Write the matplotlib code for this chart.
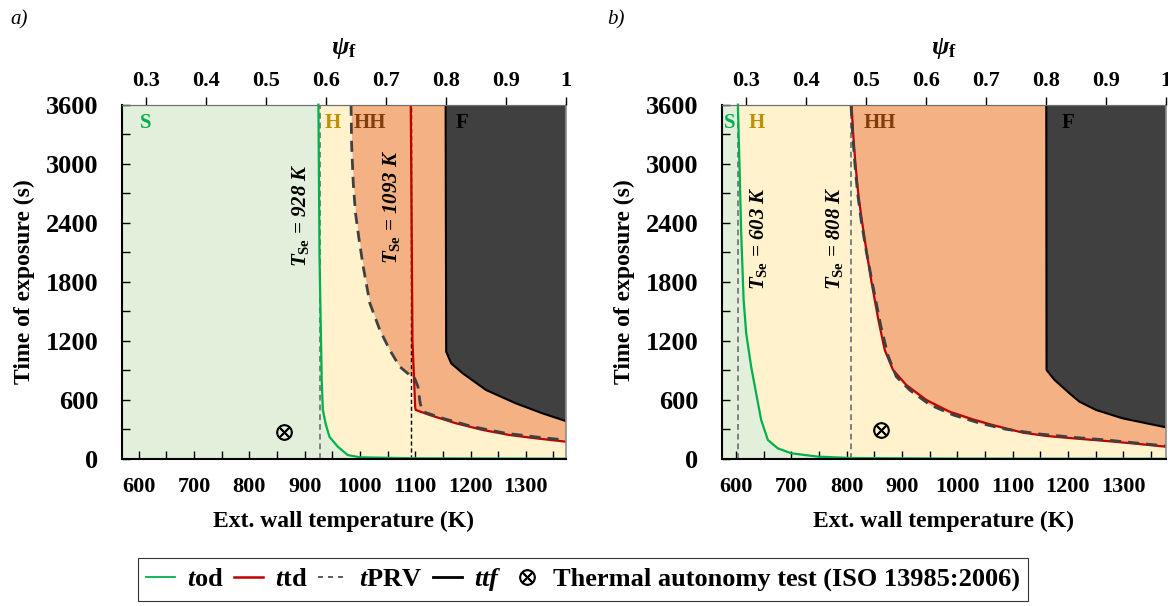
import numpy as np
import matplotlib
matplotlib.use("Agg")
import matplotlib.pyplot as plt
from matplotlib.lines import Line2D
from matplotlib.ticker import MultipleLocator

plt.rcParams['font.family'] = ['Liberation Serif', 'DejaVu Serif']
plt.rcParams['font.weight'] = 'bold'
plt.rcParams['mathtext.fontset'] = 'custom'
plt.rcParams['mathtext.it'] = 'Liberation Serif:italic:bold'
plt.rcParams['mathtext.rm'] = 'Liberation Serif:bold'
plt.rcParams['mathtext.bf'] = 'Liberation Serif:bold'

# ---------------- data: panel a ----------------
a_od_T = [925, 927, 931, 933, 938, 945, 960, 978, 1000, 1100, 1372]
a_od_t = [3600, 2050, 800, 500, 360, 225, 125, 40, 17, 7, 3]
a_td_T = [1092, 1095, 1098, 1100, 1101, 1126, 1174, 1222, 1270, 1318, 1372]
a_td_t = [3600, 1200, 800, 520, 498, 447, 362, 295, 244, 210, 176]
a_prv_T = [984, 985, 988, 992, 998, 1006, 1018, 1036, 1054, 1072, 1090, 1099, 1105, 1109, 1114, 1150, 1204, 1264, 1324, 1372]
a_prv_t = [3600, 3200, 2800, 2500, 2250, 1954, 1582, 1311, 1107, 938, 853, 820, 735, 565, 481, 413, 328, 261, 220, 192]
a_ttf_T = [1155, 1156, 1165, 1186, 1228, 1282, 1330, 1372]
a_ttf_t = [3600, 1090, 972, 870, 701, 565, 464, 386]
a_Tse = [928, 1093]
a_test = (862, 270)

# ---------------- data: panel b ----------------
b_od_T = [603.6, 606.6, 609.6, 614, 618.6, 627.6, 636.6, 645.7, 657.8, 675.8, 700, 748, 808, 1000, 1377]
b_od_t = [3600, 2970, 2293, 1616, 1277, 938, 667, 396, 193, 108, 58, 24, 10, 4, 2]
b_td_T = [809, 812, 816, 821, 827, 835, 845, 858, 869, 884, 908, 944, 986, 1028, 1064, 1095, 1119, 1161, 1209, 1269, 1329, 1377]
b_td_t = [3600, 3300, 3000, 2700, 2450, 2150, 1800, 1400, 1108, 904, 752, 600, 481, 403, 345, 301, 267, 234, 210, 183, 152, 125]
b_prv_T = [808, 811, 815, 820, 827, 836, 848, 862, 875, 890, 914, 951, 993, 1041, 1089, 1149, 1210, 1270, 1330, 1377]
b_prv_t = [3600, 3300, 3000, 2700, 2400, 2100, 1750, 1350, 1050, 836, 701, 549, 447, 363, 301, 254, 220, 193, 159, 132]
b_ttf_T = [1161, 1161.5, 1176, 1203, 1221, 1251, 1299, 1377]
b_ttf_t = [3600, 904, 803, 667, 582, 498, 413, 322]
b_Tse = [603, 808]
b_test = (863, 295)

x_ticks = [600, 700, 800, 900, 1000, 1100, 1200, 1300]
y_ticks = [0, 600, 1200, 1800, 2400, 3000, 3600]
psi_ticks = [0.3, 0.4, 0.5, 0.6, 0.7, 0.8, 0.9, 1.0]
psi_labels = ['0.3', '0.4', '0.5', '0.6', '0.7', '0.8', '0.9', '1']
region_names = ['S', 'H', 'HH', 'F']

C_S, C_H, C_HH, C_F = '#e2efda', '#fff2cc', '#f4b183', '#404040'
C_GREEN, C_RED, C_PRV = '#00b050', '#c00000', '#404040'
LBL_COLORS = ['#00b050', '#bf9000', '#843c0c', 'black']

fig = plt.figure(figsize=(11.68, 6.06), dpi=100)
axA = fig.add_axes([0.1045, 0.2426, 0.3798, 0.5847])
axB = fig.add_axes([0.6182, 0.2426, 0.3799, 0.5847])


def draw(ax, xlim, od_T, od_t, td_T, td_t, prv_T, prv_t, ttf_T, ttf_t, Tse, tse_styles,
         tse_pos, lbl_pos, test):
    ymax = 3600
    g = np.linspace(xlim[0], xlim[1], 6000)
    od = np.interp(g, od_T, od_t, left=ymax)
    td = np.interp(g, td_T, td_t, left=ymax)
    prv = np.interp(g, prv_T, prv_t, left=ymax)
    low = np.minimum(td, prv)
    ttf = np.interp(g, ttf_T, ttf_t, left=ymax)
    ax.fill_between(g, 0, od, color=C_S, lw=0, zorder=1)
    ax.fill_between(g, od, np.maximum(low, od), color=C_H, lw=0, zorder=1)
    ax.fill_between(g, low, np.maximum(ttf, low), color=C_HH, lw=0, zorder=1)
    ax.fill_between(g, ttf, ymax, color=C_F, lw=0, zorder=1)

    for T, st in zip(Tse, tse_styles):
        ax.axvline(T, color=st[0], lw=st[1], ls=(0, (3, 2)), zorder=2)

    ax.plot(ttf_T, ttf_t, color='black', lw=1.5, zorder=4)
    ax.plot(od_T, od_t, color=C_GREEN, lw=1.6, zorder=4, clip_on=False)
    ax.plot(td_T, td_t, color=C_RED, lw=1.6, zorder=4)
    ax.plot(prv_T, prv_t, color=C_PRV, lw=2.0, ls=(0, (4, 2.5)), zorder=5)
    ax.plot([test[0]], [test[1]], ls='none', marker=r'$\otimes$', ms=11, color='black', zorder=6)

    for (T, t), T_se in zip(tse_pos, Tse):
        ax.text(T, t, r'$T_{\mathrm{Se}}$ = %d K' % T_se, rotation=90, fontsize=15,
                style='italic', weight='bold', ha='center', va='center', zorder=7)
    for (T, t), name, c in zip(lbl_pos, region_names, LBL_COLORS):
        ax.text(T, t, name, color=c, fontsize=15, weight='bold', ha='center', va='center', zorder=7)

    ax.set_xlim(*xlim)
    ax.set_ylim(0, ymax)
    ax.set_xticks(x_ticks)
    ax.xaxis.set_minor_locator(MultipleLocator(50))
    ax.set_yticks(y_ticks)
    ax.yaxis.set_minor_locator(MultipleLocator(300))
    ax.tick_params(axis='x', which='both', direction='in', length=6, width=1, top=False, pad=13,
                   labelsize=16)
    ax.tick_params(axis='y', which='both', direction='in', length=6, width=1, right=False, pad=17,
                   labelsize=19)
    for lab in ax.get_xticklabels() + ax.get_yticklabels():
        lab.set_fontweight('bold')
    ax.set_xlabel('Ext. wall temperature (K)', fontsize=17, weight='bold', labelpad=10)
    ax.set_ylabel('Time of exposure (s)', fontsize=17, weight='bold', labelpad=8)
    ax.spines['left'].set_linewidth(1.5)
    ax.spines['bottom'].set_linewidth(1.5)
    ax.spines['top'].set_color('#6f6f6f')
    ax.spines['right'].set_color('#8f8f8f')
    ax.spines['right'].set_linewidth(1.2)
    for s in ax.spines.values():
        s.set_zorder(8)

    axT = ax.twiny()
    axT.set_xlim(0.2605, 1.0)
    axT.set_xticks(psi_ticks)
    axT.set_xticklabels(psi_labels, fontsize=16, weight='bold')
    axT.tick_params(axis='x', direction='out', length=6, width=1, pad=4)
    axT.set_xlabel(r'$\psi_{\mathrm{f}}$', fontsize=19, labelpad=12)
    for k in ['left', 'right', 'bottom']:
        axT.spines[k].set_visible(False)
    axT.spines['top'].set_color('#6f6f6f')


draw(axA, (570, 1372), a_od_T, a_od_t, a_td_T, a_td_t, a_prv_T, a_prv_t, a_ttf_T, a_ttf_t,
     a_Tse, [('#7f7f7f', 1.4), ('black', 1.0)],
     [(892, 2480), (1057, 2560)],
     [(613, 3414), (951, 3414), (1018, 3414), (1185, 3414)], a_test)
draw(axB, (575, 1377), b_od_T, b_od_t, b_td_T, b_td_t, b_prv_T, b_prv_t, b_ttf_T, b_ttf_t,
     b_Tse, [('#7f7f7f', 1.4), ('#7f7f7f', 1.4)],
     [(640, 2245), (778, 2245)],
     [(588, 3414), (637, 3414), (860, 3414), (1201, 3414)], b_test)

fig.text(0.009, 0.968, 'a)', fontsize=15, style='italic', weight='normal', va='center')
fig.text(0.520, 0.968, 'b)', fontsize=15, style='italic', weight='normal', va='center')

handles = [Line2D([], [], color=C_GREEN, lw=1.3),
           Line2D([], [], color=C_RED, lw=1.8),
           Line2D([], [], color=C_PRV, lw=1.2, ls=(0, (3, 3))),
           Line2D([], [], color='black', lw=2.0),
           Line2D([], [], ls='none', marker=r'$\otimes$', ms=11, color='black')]
labels = [r'$t$od', r'$t$td', r'$t$PRV', r'$ttf$', 'Thermal autonomy test (ISO 13985:2006)']
leg = fig.legend(handles, labels, loc='center', bbox_to_anchor=(0.499, 0.044), ncol=5,
                 frameon=True, fancybox=False, edgecolor='black',
                 prop={'family': 'Liberation Serif', 'weight': 'bold', 'size': 19},
                 handlelength=1.1, handletextpad=0.45, columnspacing=0.4, borderpad=0.3,
                 borderaxespad=0.2)
leg.get_frame().set_linewidth(0.8)

fig.savefig('out.png', dpi=100)
